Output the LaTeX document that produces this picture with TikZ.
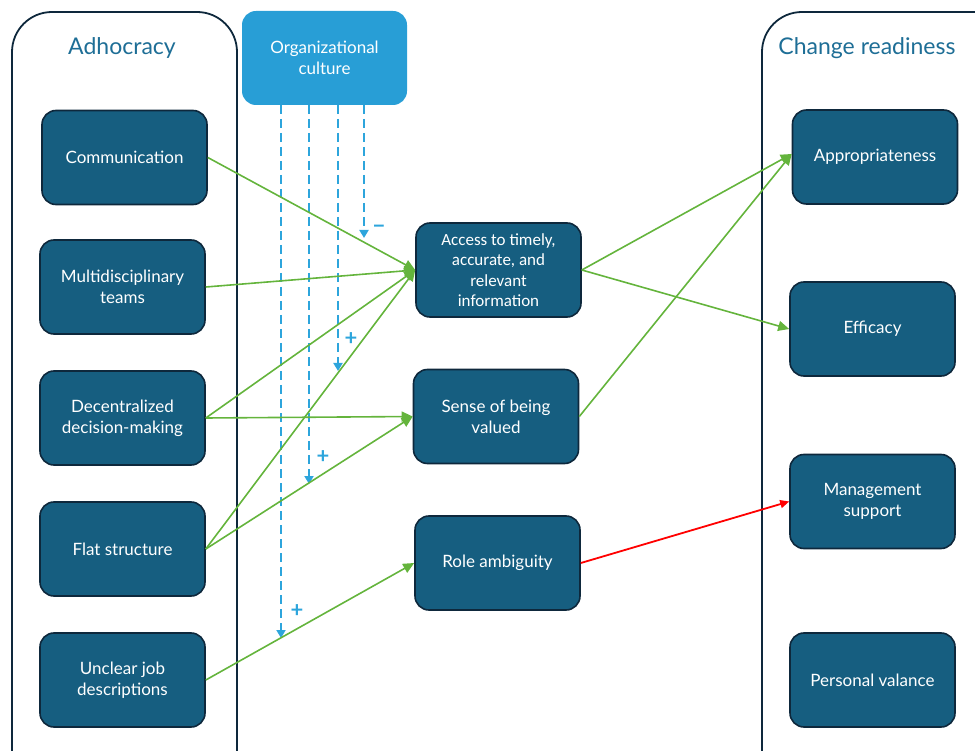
\documentclass[tikz,border=0pt]{standalone}
\usepackage{fontspec}
\setmainfont{Lato}
\newfontfamily\calib{Carlito}
\usetikzlibrary{arrows.meta}
\definecolor{boxfill}{RGB}{22,94,128}
\definecolor{boxline}{RGB}{14,40,60}
\definecolor{titleblue}{RGB}{30,110,150}
\definecolor{orgblue}{RGB}{40,158,214}
\definecolor{dashblue}{RGB}{45,165,220}
\definecolor{arrgreen}{RGB}{100,180,60}
\tikzset{
  boxnode/.style={draw=boxline, line width=1.6pt, fill=boxfill, rounded corners=14pt,
    minimum width=165pt, minimum height=94pt, text=white, align=center,
    font=\fontsize{17}{21}\selectfont, inner sep=2pt},
  orgnode/.style={fill=orgblue, rounded corners=14pt, minimum width=165pt,
    minimum height=94pt, text=white, align=center, font=\fontsize{17}{21}\selectfont},
  container/.style={draw=boxline, line width=1.8pt, rounded corners=40pt},
  titletext/.style={text=titleblue, font=\fontsize{23}{26}\selectfont},
  garrow/.style={draw=arrgreen, line width=1.6pt, -{Triangle[width=10pt,length=11pt]}},
  rarrow/.style={draw=red, line width=1.8pt, -{Triangle[width=8pt,length=9pt]}},
  darrow/.style={draw=dashblue, line width=1.8pt, dash pattern=on 9pt off 5pt,
    -{Triangle[width=9pt,length=8pt]}},
  signlabel/.style={text=dashblue, font=\bfseries\fontsize{22}{22}\selectfont}
}
\begin{document}
\begin{tikzpicture}[x=1pt,y=-1pt]
\useasboundingbox (0,0) rectangle (975,751);
\clip (0,0) rectangle (975,751);
% containers
\draw[container] (12,12) rectangle (237,790);
\draw[container] (762,12) rectangle (1020,790);
\node[titletext] (t1) at (122,48) {Adhocracy};
\node[titletext] (t2) at (867,48) {Change readiness};
% org culture
\node[orgnode] (org) at (324.5,58) {Organizational\\culture};
% left boxes
\node[boxnode] (comm) at (124.5,157.5) {Communication};
\node[boxnode] (multi) at (122.5,287) {Multidisciplinary\\teams};
\node[boxnode] (dec) at (122.5,418) {Decentralized\\decision-making};
\node[boxnode] (flat) at (122.5,549) {Flat structure};
\node[boxnode] (unclear) at (122.5,680) {Unclear job\\descriptions};
% middle boxes
\node[boxnode, font=\calib\fontsize{17}{20.5}\selectfont] (access) at (498.5,270) {Access to timely,\\accurate, and\\relevant\\information};
\node[boxnode] (sense) at (496,416.5) {Sense of being\\valued};
\node[boxnode] (role) at (497.5,563) {Role ambiguity};
% right boxes
\node[boxnode] (approp) at (875,157) {Appropriateness};
\node[boxnode] (eff) at (872.5,329) {Efficacy};
\node[boxnode] (mgmt) at (872.5,501.5) {Management\\support};
\node[boxnode] (pers) at (872.5,680) {Personal valance};
% dashed moderator lines
\coordinate (d1s) at (281,105); \coordinate (d1e) at (281,638);
\coordinate (d2s) at (309,105); \coordinate (d2e) at (309,484);
\coordinate (d3s) at (338,105); \coordinate (d3e) at (338,371);
\coordinate (d4s) at (364,105); \coordinate (d4e) at (364,238);
\draw[darrow] (d1s) -- (d1e);
\draw[darrow] (d2s) -- (d2e);
\draw[darrow] (d3s) -- (d3e);
\draw[darrow] (d4s) -- (d4e);
\node[signlabel] (s4) at (379,229) {\textminus};
\node[signlabel] (s3) at (351,339) {+};
\node[signlabel] (s2) at (323,457) {+};
\node[signlabel] (s1) at (297,611) {+};
% green arrows
\draw[garrow] (comm.east) -- (access.west);
\draw[garrow] (multi.east) -- (access.west);
\draw[garrow] (dec.east) -- (access.west);
\draw[garrow] (flat.east) -- (access.west);
\draw[garrow] (dec.east) -- (sense.west);
\draw[garrow] (flat.east) -- (sense.west);
\draw[garrow] (unclear.east) -- (role.west);
\draw[garrow] (access.east) -- ([yshift=3pt]approp.west);
\draw[garrow] (sense.east) -- ([yshift=3pt]approp.west);
\draw[garrow] (access.east) -- (eff.west);
\draw[rarrow] (role.east) -- (mgmt.west);
\end{tikzpicture}
\end{document}
